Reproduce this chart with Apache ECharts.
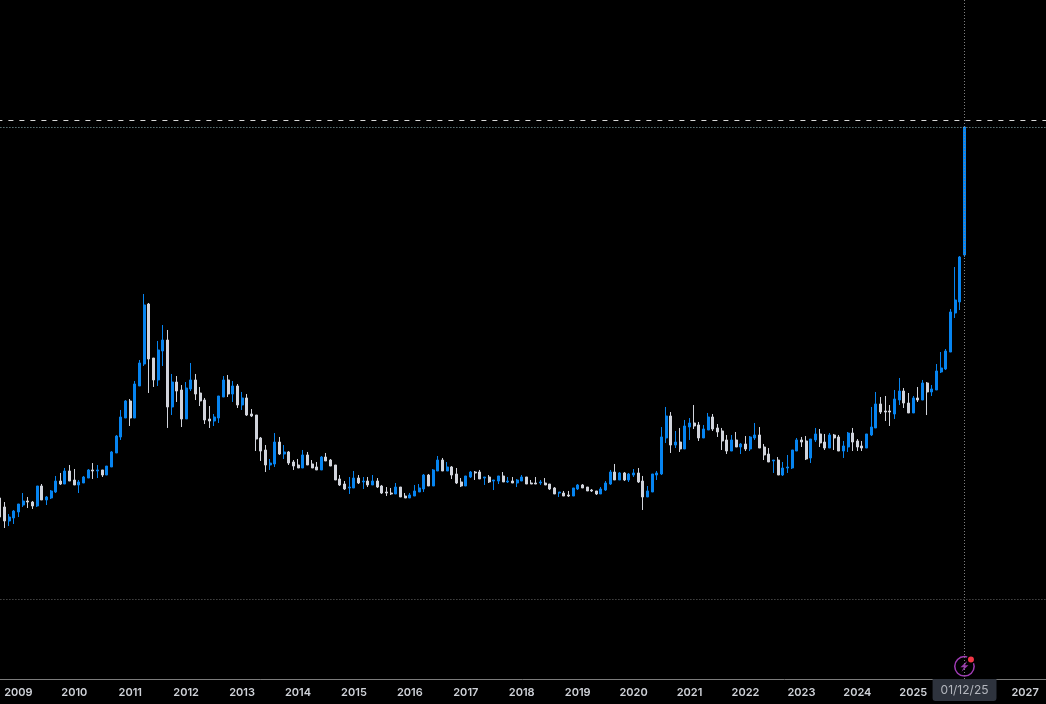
<!DOCTYPE html>
<html>
<head>
<meta charset="utf-8">
<style>html,body{margin:0;padding:0;background:#000;overflow:hidden}#c{width:1046px;height:704px}</style>
<script src="https://cdn.jsdelivr.net/npm/echarts@6/dist/echarts.min.js"></script>
</head>
<body>
<div id="c"></div>
<script>
// Monthly candles, September 2008 to December 2025
const opens = [17,15.5,13.17,13.67,14.67,15.83,16.5,16.33,15.67,19,
16.67,17,18,19.83,19.33,21.5,20,19.17,19.5,20.33,
21.67,21.5,21.67,20.83,22.17,24.5,27.17,30.33,33.17,30.33,
35.67,39.33,49.33,40.33,36.67,41.5,43.33,32.17,36.33,35,
30.17,35.17,36.67,34.5,33.33,30.17,29.83,30.33,33.83,36.67,
34.33,35.67,32.5,33.67,31,30.83,27,25,22.5,22.67,
26.33,24.33,24.67,23,22.5,22,24.17,22.67,22.17,21.67,
23.83,23.33,22.5,20.17,19.33,18.67,18.67,20.33,19.67,19.83,
19.17,19.83,19,18,17.83,17.67,18.83,17.33,17,17.33,
18,18.5,20.83,19,21.5,23.33,21.5,22.17,21,19.67,
19,20.5,21.33,21.33,20.33,20.5,19.83,19.83,20.67,19.67,
19.83,19.5,19.83,20.5,19.5,19.5,19.5,19.5,19.33,18.67,
17.83,17.83,17.5,17.33,18.5,19.17,18.83,18.33,18.17,17.67,
18.33,19.33,21.33,20,21.17,20,20.83,21.17,19.83,17.17,
18,20.83,21,27,30.67,25.83,26.33,25.17,28.83,29.5,
29.17,27,28.33,30.5,28.67,28.17,26.67,24.83,26.67,25.5,
26,25.17,27,27.5,25.5,24.33,23.17,23.33,20.83,22,
22,24.83,26.67,26.5,23.67,26.67,27.67,26.33,25.33,27.5,
27.17,24.83,25.5,27.83,26.5,25.67,25.33,27.5,28.67,32.67,
31.5,31.5,31,33.33,34.83,32.83,31.17,33.67,33.33,36.17,
34.67,35,38,38.5,41.33,47.83,49.67,57.5];
const closes = [13.83,13.17,13.83,14.83,16,16.5,16.33,15.67,19,16.67,
17.17,18.17,19.83,19.33,21.5,19.83,19.17,19.67,20.5,21.67,
21.5,21.67,20.83,22.33,24.67,27.33,30.5,33.17,30.33,36,
39.5,49.17,40.17,36.67,41.67,43.33,32.17,36.33,34.83,30.17,
35.33,36.67,34.33,33.17,30,29.83,30.5,34,36.67,34.33,
35.67,32.5,33.67,30.83,30.67,26.83,24.83,22.5,22.83,26.33,
24.33,24.67,22.83,22.33,22,24.17,22.5,22,21.67,23.83,
23.17,22.33,20,19.17,18.5,18.83,20.33,19.5,19.83,19.17,
19.83,18.83,17.83,17.83,17.67,18.83,17.17,17,17.5,18.17,
18.67,20.83,19,21.67,23.33,21.5,22.17,20.83,19.5,19,
20.67,21.33,21.17,20.17,20.5,19.67,20,20.67,19.67,19.83,
19.5,20,20.5,19.33,19.33,19.33,19.67,19.17,18.5,17.67,
18,17.33,17.33,18.67,19.17,18.67,18.17,18.17,17.67,18.5,
19.5,21.33,20,21.17,20,21,21.17,19.67,17.17,18.17,
21,21.17,27.17,30.67,25.83,26.33,25.17,29,29.5,29,
27,28.5,30.5,28.5,28,26.5,24.83,26.67,25.5,26,
25.17,27.17,27.5,25.33,24.17,23,23.33,20.83,22,22.17,
25,26.67,26.33,23.5,26.83,27.67,26.17,25.33,27.5,27,
24.83,25.67,27.83,26.33,25.5,25.33,27.67,28.83,32.67,31.33,
31.33,31.33,33.5,34.83,32.83,31.17,33.67,33.33,36.17,34.67,
35.17,38.17,38.67,41.5,48,50,57.17,78.83];
const lows = [13.67,12,12.33,12.67,13.83,15.5,15.33,15.17,15.5,16.67,
15.83,16.83,17.83,19.17,19.33,19.83,19.17,17.83,19.5,20.33,
20.17,20.33,20.5,20.83,22.17,24.5,26.67,30.33,29,30.33,
35.67,39,34.5,35.5,35.67,39,28.67,30.83,33,28.83,
30.17,34.83,33.33,32.33,29.33,28.67,29,29.5,33.83,33.83,
33,32,31.67,30.67,30.5,24.83,23.17,21.33,21.67,22.17,
24.17,23.5,22.5,21.67,22,22,22.5,22,21.67,21.67,
23.17,22.33,20,19,18.33,17.67,18.67,19.33,18.5,18.83,
19.17,18.67,17.67,17.33,17.5,17.67,17.17,17,17,17.33,
18,18,19,19,21.5,21.5,21.5,20.17,19.33,18.83,
19,20.33,20,20.17,19.17,19.5,18.33,19.33,19.67,19.5,
19.5,18.83,19.83,19.33,19.33,19.33,19.17,19.17,18.33,17.67,
17.17,17.33,17.17,17.33,18.33,18.67,18.17,18,17.5,17.67,
18.17,19.17,20,20,19.83,19.67,20.5,19.5,15,17.17,
18,20,20.83,26.17,24.5,25.33,24.67,25.17,26.67,28.5,
26.5,27,28.33,28.17,27.17,25,24.33,24.83,25.5,24.33,
24.83,24.83,26.67,25.33,23.33,23,21.17,20.83,20.67,21.17,
21.83,24.83,25.5,23.33,22.83,26.33,25.5,25,25.33,25,
24.83,23.67,24.67,24.83,24.83,24.83,25.33,27.33,28.67,31,
29.83,29,30.17,32.5,32,31.17,31.17,33,33.33,30.83,
34,35,37.83,38.33,41.33,47,48.33,57.17];
const highs = [17.17,16.33,14.33,15,16,17.83,17.17,16.5,19,19.33,
17.33,18.33,20.67,21.17,22,22.5,21.83,20,20.67,21.83,
22.83,22.5,21.67,22.33,24.83,27.5,31.67,33.33,33.5,36.5,
40,51,49.5,40.33,43.17,45.83,45,37.67,37.33,35.83,
36.33,39.5,37.67,35.5,33.67,32.33,31,34,37.33,37.5,
36.5,36,34.67,34.33,31.83,30.83,27.17,25.83,23.5,27.83,
27.17,25.83,24.83,23.33,23.5,25,24.67,23.33,23,24,
24.5,23.5,22.5,20.83,19.83,20.5,21.5,20.83,20.5,20.5,
20.83,20.33,19.17,18.83,18.67,19.5,18.83,17.83,17.83,19.17,
19.33,21,21,21.83,24,23.67,23,22.33,22,20.33,
20.67,21.5,21.5,21.67,20.5,20.83,20,20.67,21.33,20.5,
20.5,20.17,20.83,20.5,20,20.5,20,20.33,19.33,18.83,
18,18.17,18.17,18.67,19.33,19.33,18.83,18.5,18.17,18.83,
19.83,21.67,22.67,21.33,21.33,21.17,21.83,22,20.67,19,
21,21.5,28.83,32.17,31.33,28.17,28.67,30,30.33,32.5,
29.67,29.17,31.17,31,29.33,28.67,27.5,27.5,28,26.17,
27.33,27.33,29.5,28.83,26,25.33,23.33,23.83,23,24.17,
25,27,27.17,27.33,26.83,28.67,28.5,27.67,27.83,27.67,
27.5,26.5,28,28.67,26.83,26.5,27.67,32.17,34.67,33.83,
34,32.5,35,37,35.33,34.5,34,35.5,36.67,36.33,
35.83,39.33,41.33,41.83,48.5,55.5,57.33,78.83];

const firstYear = 2008, firstMonth = 9, monthCount = 225;
const dashedLevel = 80, lastLevel = 78.83, baseLevel = 0.17;
const crosshairLabel = '01/12/25';

const categories = [];
for (let i = 0; i < monthCount; i++) {
  const m = firstMonth - 1 + i;
  categories.push((firstYear + Math.floor(m / 12)) + '-' + String(m % 12 + 1).padStart(2, '0'));
}
const candles = opens.map((o, i) => [o, closes[i], lows[i], highs[i]]);

const chart = echarts.init(document.getElementById('c'), null, {renderer: 'canvas'});
const BLUE = '#0684f0', GREY = '#d1d4dc';
chart.setOption({
  animation: false,
  backgroundColor: '#000',
  tooltip: {show: false},
  grid: {left: -2.6, top: 0, width: 1048.7, height: 679, outerBoundsMode: 'none'},
  xAxis: {
    type: 'category',
    data: categories,
    boundaryGap: true,
    axisLine: {show: true, onZero: false, lineStyle: {color: '#7c7c7c', width: 1}},
    axisTick: {show: false},
    splitLine: {show: false},
    axisLabel: {
      color: '#cfd2d8', fontFamily: 'Inter', fontSize: 11, fontWeight: 600, margin: 8,
      hideOverlap: false,
      interval: (i, v) => v.endsWith('-01'),
      formatter: v => v.slice(0, 4)
    },
    axisPointer: {
      show: true, type: 'line', value: opens.length - 1, status: 'show', snap: false,
      lineStyle: {type: [1, 2], color: '#808080', width: 1},
      label: {
        show: true, formatter: () => crosshairLabel, margin: 0,
        backgroundColor: '#2e333d', color: '#b4b7be', fontFamily: 'Inter', fontSize: 12,
        padding: [5, 8, 5, 8], borderRadius: [0, 0, 3, 3]
      }
    }
  },
  yAxis: {
    type: 'value', min: -13.1667, max: 100,
    axisLine: {show: false}, axisTick: {show: false}, axisLabel: {show: false}, splitLine: {show: false}
  },
  series: [{
    type: 'candlestick',
    data: candles,
    barWidth: 2.5,
    itemStyle: {color: BLUE, color0: GREY, borderColor: BLUE, borderColor0: GREY, borderWidth: 1},
    markLine: {
      silent: true, symbol: 'none', animation: false, label: {show: false},
      data: [
        {yAxis: dashedLevel, lineStyle: {type: [5, 6], color: '#d8d8d8', width: 1}},
        {yAxis: lastLevel, lineStyle: {type: [1, 2], color: '#8fb5b8', width: 1}},
        {yAxis: baseLevel, lineStyle: {type: [1, 2], color: '#6a6a6a', width: 1}}
      ]
    }
  }],
  graphic: [{
    type: 'group', left: 954, top: 655, z: 100, silent: true,
    children: [
      {type: 'circle', shape: {cx: 10.5, cy: 10.5, r: 9.7}, style: {fill: 'rgba(0,0,0,0.75)', stroke: '#a03bb5', lineWidth: 1.5}},
      {type: 'polygon', shape: {points: [[13.5, 5], [6.5, 11.5], [10, 11.5], [7.5, 16], [14.5, 9.5], [11, 9.5]]}, style: {fill: '#9a37ad'}},
      {type: 'circle', shape: {cx: 17, cy: 3.8, r: 4.6}, style: {fill: '#000'}},
      {type: 'circle', shape: {cx: 17, cy: 3.8, r: 3}, style: {fill: '#f23645'}}
    ]
  }]
});
</script>
</body>
</html>
